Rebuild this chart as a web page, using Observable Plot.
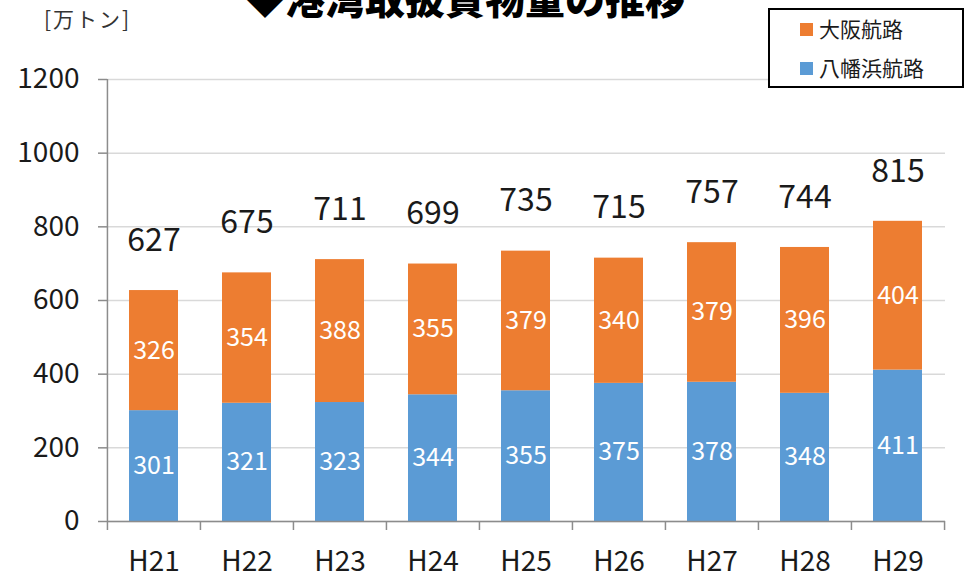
<!DOCTYPE html>
<html>
<head>
<meta charset="utf-8">
<script src="https://cdn.jsdelivr.net/npm/d3@7"></script>
<script src="https://cdn.jsdelivr.net/npm/@observablehq/plot@0.6"></script>
<style>
  html, body { margin: 0; padding: 0; background: #fff; }
  #wrap { position: relative; width: 967px; height: 580px; overflow: hidden; font-family: "Noto Sans CJK JP", sans-serif; color: #1a1a1a; }
  #title { position: absolute; left: 0; width: 930px; top: -23px; text-align: center; font-size: 40px; line-height: 40px; font-weight: 900; color: #000; white-space: nowrap; }
  #unit { position: absolute; left: 44px; top: 6px; font-size: 21px; line-height: 24px; letter-spacing: 2px; color: #333; }
  #legend { position: absolute; left: 768px; top: 8px; width: 192px; height: 76px; border: 2px solid #000; background: #fff; }
  .li { position: absolute; left: 30px; font-size: 21px; line-height: 24px; white-space: nowrap; color: #1a1a1a; }
  .sw { display: inline-block; width: 13px; height: 13px; margin-right: 6px; vertical-align: 1px; }
</style>
</head>
<body>
<div id="wrap">
  <div id="chart"></div>
  <div id="title">◆港湾取扱貨物量の推移</div>
  <div id="unit">[万トン]</div>
  <div id="legend"></div>
</div>
<script>
const years = ["H21","H22","H23","H24","H25","H26","H27","H28","H29"];
const yawatahama = [301, 321, 323, 344, 355, 375, 378, 348, 411];
const osaka = [326, 354, 388, 355, 379, 340, 379, 396, 404];
const totals = [627, 675, 711, 699, 735, 715, 757, 744, 815];
const seriesNames = ["八幡浜航路", "大阪航路"];
const legendOrder = ["大阪航路", "八幡浜航路"];
const seriesColors = ["#5B9BD5", "#ED7D31"];
const yTicks = [0, 200, 400, 600, 800, 1000, 1200];

const rows = [];
years.forEach((yr, i) => {
  rows.push({year: yr, series: seriesNames[0], value: yawatahama[i]});
  rows.push({year: yr, series: seriesNames[1], value: osaka[i]});
});
const totalRows = years.map((yr, i) => ({year: yr, total: totals[i]}));

const W = 967, H = 580, ML = 107, MR = 22, MT = 79, MB = 59;
const step = (W - ML - MR) / years.length;
const font = "Noto Sans CJK JP";
const axisGrey = "#8c8c8c";

const chart = Plot.plot({
  width: W, height: H,
  marginLeft: ML, marginRight: MR, marginTop: MT, marginBottom: MB,
  style: {fontFamily: font, background: "#fff"},
  x: {type: "band", domain: years, paddingInner: 0.47, paddingOuter: 0.235},
  y: {domain: [0, 1200]},
  color: {domain: seriesNames, range: seriesColors},
  marks: [
    Plot.gridY(yTicks, {stroke: "#d9d9d9", strokeOpacity: 1, strokeWidth: 1.5}),
    Plot.barY(rows, {x: "year", y: "value", fill: "series", z: "series", order: seriesNames}),
    Plot.text(rows, Plot.stackY({x: "year", y: "value", z: "series", order: seriesNames, text: d => String(d.value), fill: "#fff", fontSize: 25})),
    Plot.text(totalRows, {x: "year", y: "total", text: d => String(d.total), dy: -50, fontSize: 32, fill: "#1a1a1a"}),
    Plot.ruleY([0], {stroke: axisGrey, strokeWidth: 1.5}),
    Plot.ruleX([years[0]], {x: d => d, dx: -step / 2, y1: 0, y2: 1200, stroke: axisGrey, strokeWidth: 1.5}),
    Plot.ruleX(years, {x: d => d, dx: -step / 2, y1: 0, y2: 0, insetBottom: -9, stroke: axisGrey, strokeWidth: 1.5}),
    Plot.ruleX([years[years.length - 1]], {x: d => d, dx: step / 2, y1: 0, y2: 0, insetBottom: -9, stroke: axisGrey, strokeWidth: 1.5}),
    Plot.axisY(yTicks, {tickSize: 9, tickPadding: 19, fontSize: 28, stroke: axisGrey, strokeWidth: 1.5, fill: "#1a1a1a", tickFormat: d => String(d), label: null}),
    Plot.axisX({tickSize: 0, tickPadding: 30, fontSize: 28, fill: "#1a1a1a", label: null})
  ]
});
document.getElementById("chart").appendChild(chart);

const legend = document.getElementById("legend");
legendOrder.forEach((name, i) => {
  const div = document.createElement("div");
  div.className = "li";
  div.style.top = (i === 0 ? 6 : 45) + "px";
  const sw = document.createElement("span");
  sw.className = "sw";
  sw.style.background = seriesColors[seriesNames.indexOf(name)];
  div.appendChild(sw);
  div.appendChild(document.createTextNode(name));
  legend.appendChild(div);
});
</script>
</body>
</html>
